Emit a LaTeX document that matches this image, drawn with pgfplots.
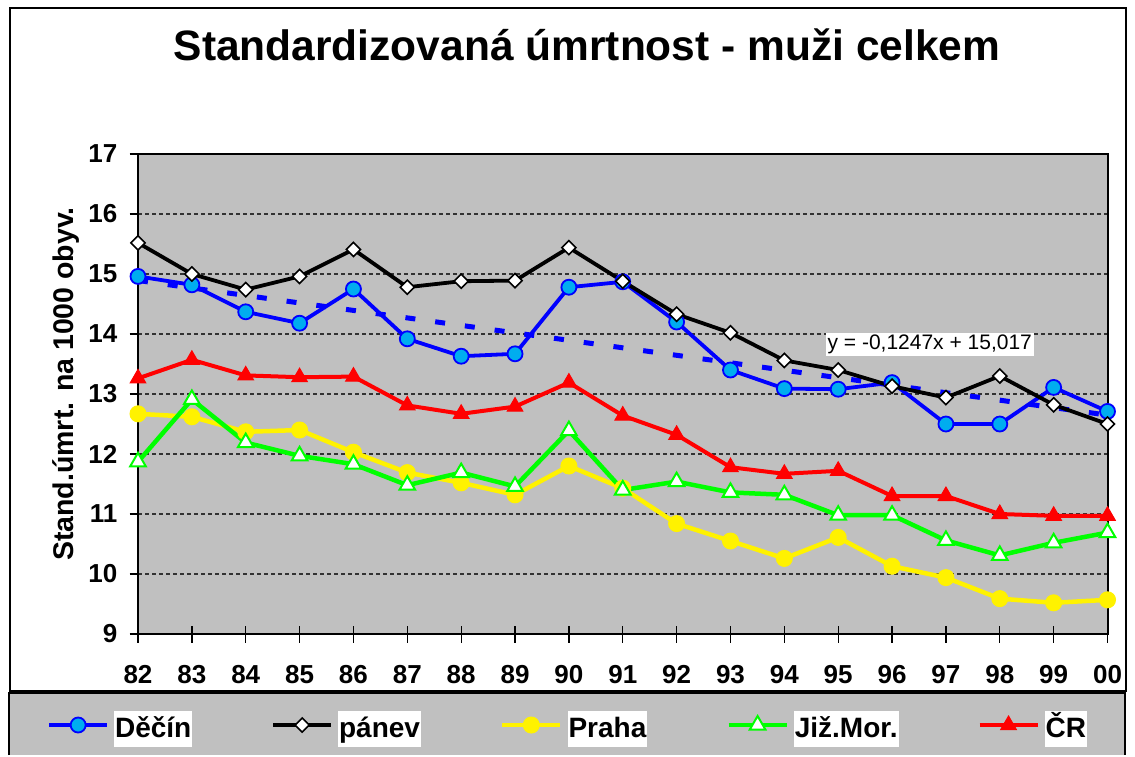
\documentclass[border=0pt]{standalone}
\usepackage{fontspec}
\setmainfont{Liberation Sans}
\usepackage{pgfplots}
\pgfplotsset{compat=1.18}
\definecolor{plotgray}{RGB}{192,192,192}
\definecolor{gridc}{RGB}{50,50,50}
\newcommand\lt[1]{{\setlength\fboxsep{1pt}\colorbox{white}{\rule[-9pt]{0pt}{34pt}#1}}}
\begin{document}
\begin{tikzpicture}
\begin{scope}[x=1pt,y=-1pt]
\draw[line width=1.5pt, fill=white] (10,8) rectangle (1126,691);
\fill[plotgray] (9,693) rectangle (1125,755);
\draw[line width=2pt] (9,755) -- (9,693) -- (1125,693) -- (1125,755);
\node[font=\fontsize{42.5}{50}\selectfont\bfseries] at (587,45) {Standardizovaná úmrtnost - muži celkem};
\node[rotate=90, anchor=base, inner sep=0pt, font=\fontsize{28.5}{34}\selectfont\bfseries] at (73,384) {Stand.úmrt. na 1000 obyv.};
\end{scope}
\begin{axis}[
  at={(138pt,-634pt)}, anchor=south west,
  scale only axis, width=969.5pt, height=480pt,
  xmin=82, xmax=100, ymin=9, ymax=17,
  axis background/.style={fill=plotgray},
  axis line style={line width=2pt},
  xtick={82,...,100},
  xticklabels={82,83,84,85,86,87,88,89,90,91,92,93,94,95,96,97,98,99,00},
  ytick={9,...,17},
  xtick pos=bottom, ytick pos=left,
  tick align=outside,
  major tick length=8.5pt,
  tick style={black, line width=1.3pt},
  extra x ticks={83,...,99},
  extra x tick labels={},
  extra x tick style={tick align=inside, grid=none},
  ymajorgrids,
  major grid style={gridc, line width=1.1pt, dash pattern=on 4pt off 3pt},
  /pgf/number format/assume math mode=true,
  tick label style={font=\fontsize{26}{30}\selectfont\bfseries},
  yticklabel style={inner sep=0pt, xshift=-12pt},
  xticklabel style={inner sep=0pt, yshift=-23pt},
  legend columns=5,
  legend style={at={(-0.0938,-0.1896)}, anchor=west, draw=none, fill=none,
    inner sep=0pt, font=\fontsize{28}{33}\selectfont\bfseries,
    nodes={inner sep=0pt},
    /tikz/every even column/.append style={column sep=79pt},
    /tikz/every odd column/.append style={column sep=5pt}},
  legend image code/.code={\draw[mark repeat=2,mark phase=2,#1] plot coordinates {(0pt,0pt) (29pt,0pt) (58pt,0pt)};},
]
% trend line of Decin
\addplot[blue, line width=5pt, dash pattern=on 10pt off 20pt, forget plot] coordinates {(82,14.892) (100,12.648)};
% Decin
\addplot[blue, line width=3.8pt, mark=*, mark size=7.5pt, mark options={solid, fill=cyan, draw=blue, line width=1.8pt}] coordinates {
(82,14.96) (83,14.82) (84,14.37) (85,14.18) (86,14.75) (87,13.92) (88,13.63) (89,13.67) (90,14.78) (91,14.87)
(92,14.20) (93,13.40) (94,13.09) (95,13.08) (96,13.19) (97,12.50) (98,12.50) (99,13.11) (100,12.71)};
\addlegendentry{\lt{Děčín}}
% panev
\addplot[black, line width=3.8pt, mark=square*, mark size=5pt, mark options={solid, rotate=45, fill=white, draw=black, line width=1.6pt}] coordinates {
(82,15.52) (83,15.00) (84,14.74) (85,14.96) (86,15.41) (87,14.78) (88,14.88) (89,14.89) (90,15.44) (91,14.88)
(92,14.33) (93,14.02) (94,13.56) (95,13.40) (96,13.13) (97,12.94) (98,13.30) (99,12.82) (100,12.50)};
\addlegendentry{\lt{pánev}}
% Praha
\addplot[yellow, line width=4.5pt, mark=*, mark size=8pt, mark options={solid, fill=yellow, draw=yellow, line width=1pt}] coordinates {
(82,12.67) (83,12.62) (84,12.37) (85,12.40) (86,12.03) (87,11.69) (88,11.52) (89,11.32) (90,11.80) (91,11.43)
(92,10.84) (93,10.55) (94,10.26) (95,10.61) (96,10.13) (97,9.94) (98,9.59) (99,9.52) (100,9.57)};
\addlegendentry{\lt{Praha}}
% Jiz.Mor.
\addplot[green, line width=4.5pt, mark=triangle*, mark size=9pt, mark options={solid, fill=white, draw=green, line width=2pt}] coordinates {
(82,11.87) (83,12.91) (84,12.19) (85,11.97) (86,11.83) (87,11.48) (88,11.69) (89,11.46) (90,12.39) (91,11.40)
(92,11.54) (93,11.36) (94,11.32) (95,10.98) (96,10.98) (97,10.56) (98,10.31) (99,10.52) (100,10.69)};
\addlegendentry{\lt{Již.Mor.}}
% CR
\addplot[red, line width=4pt, mark=triangle*, mark size=9pt, mark options={solid, fill=red, draw=red, line width=1pt}] coordinates {
(82,13.26) (83,13.57) (84,13.31) (85,13.28) (86,13.29) (87,12.81) (88,12.67) (89,12.79) (90,13.19) (91,12.64)
(92,12.32) (93,11.78) (94,11.67) (95,11.72) (96,11.30) (97,11.30) (98,11.00) (99,10.97) (100,10.97)};
\addlegendentry{\lt{ČR}}
\node[fill=white, inner sep=2pt, font=\fontsize{21}{25}\selectfont] at (axis cs:96.7,13.825) {y = -0,1247x + 15,017};
\end{axis}
\useasboundingbox (0pt,0pt) rectangle (1135pt,-755pt);
\end{tikzpicture}
\end{document}
